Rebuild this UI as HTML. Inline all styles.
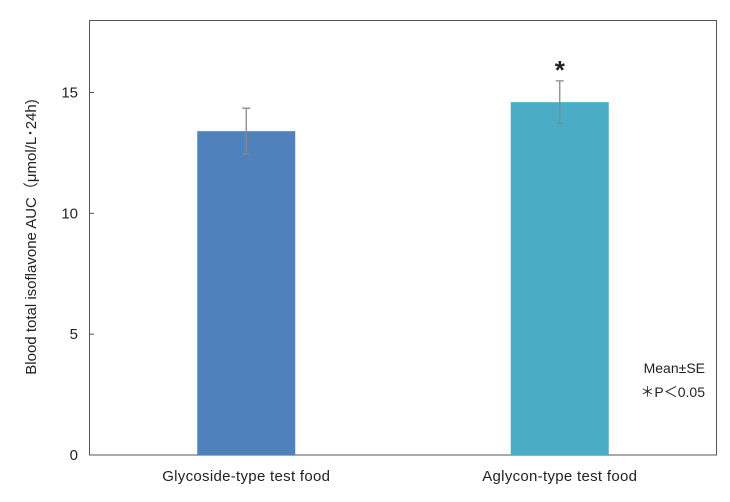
<!DOCTYPE html>
<html><head><meta charset="utf-8"><style>
body{margin:0;background:#fff;}
svg text{font-family:"Liberation Sans","Noto Sans CJK JP",sans-serif;fill:#222;}
</style></head><body>
<svg id="chart" width="730" height="497">
<rect x="89.5" y="20.5" width="627" height="434.5" fill="none" stroke="#555" stroke-width="1"/>
<g id="yaxis"></g>
<g id="bars"></g>
<text transform="translate(36,237) rotate(-90)" text-anchor="middle" font-size="15">Blood total isoflavone AUC（μmol/L･24h)</text>
<text x="705" y="373" text-anchor="end" font-size="14">Mean±SE</text>
<text x="705" y="397" text-anchor="end" font-size="14">＊P＜0.05</text>
</svg>
<script>
const categories = ["Glycoside-type test food", "Aglycon-type test food"];
const means = [13.4, 14.6];
const errors = [0.95, 0.88];
const significant = [false, true];
const yTicks = [0, 5, 10, 15];
const colors = ["#4f81bd", "#4bacc6"];
const NS = "http://www.w3.org/2000/svg";
const y0 = 455, yTop = 20, yMax = 18;
const y = v => y0 - v / yMax * (y0 - yTop);
const left = 89.5, right = 716.5;
const x = i => left + (right - left) * (i + 0.5) / categories.length;
function mk(tag, attrs, parent){const e=document.createElementNS(NS,tag);for(const k in attrs)e.setAttribute(k,attrs[k]);parent.appendChild(e);return e;}
const ya = document.getElementById('yaxis');
yTicks.forEach(t => {
  const l = mk('line',{x1:89.5,x2:94,y1:y(t),y2:y(t),stroke:'#555'},ya);
  
  
  const tx = mk('text',{x:78,y:y(t)+5,'text-anchor':'end','font-size':15},ya);
  tx.textContent = t;
  
  
});
const g = document.getElementById('bars');
const bw = 98;
categories.forEach((c, i) => {
  const cx = x(i);
  const r = mk('rect',{x:cx-bw/2,y:y(means[i]),width:bw,height:y0-y(means[i]),fill:colors[i]},g);
  
  
  const hi = y(means[i]+errors[i]), lo = y(means[i]-errors[i]);
  const eb = mk('path',{d:`M${cx},${hi}V${lo}M${cx-4},${hi}H${cx+4}M${cx-4},${lo}H${cx+4}`,stroke:'#888','stroke-width':1.3,fill:'none'},g);
  
  
  const lb = mk('text',{x:cx,y:481,'text-anchor':'middle','font-size':15,'letter-spacing':'0.3'},g);
  lb.textContent = c;
  
  
  if (significant[i]) {
    const s = mk('text',{x:cx,y:hi-2,'text-anchor':'middle','font-size':26,'font-weight':'bold'},g);
    s.textContent = '*';
    
    
  }
});
</script>
</body></html>
